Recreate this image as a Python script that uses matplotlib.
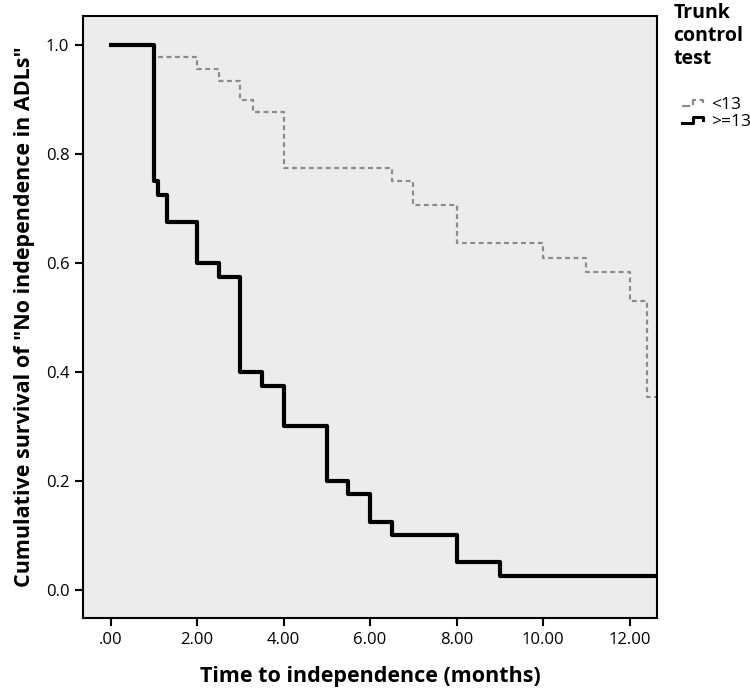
import matplotlib
matplotlib.use("Agg")
import matplotlib.pyplot as plt
from matplotlib.legend_handler import HandlerBase
from matplotlib.lines import Line2D
from matplotlib.ticker import FuncFormatter

# Kaplan-Meier steps
time_low = [0.0, 1.0, 2.0, 2.5, 3.0, 3.3, 4.0, 6.5, 7.0, 8.0, 10.0, 11.0, 12.0, 12.4, 12.62]
surv_low = [1.0, 0.978, 0.956, 0.934, 0.90, 0.878, 0.775, 0.75, 0.706, 0.636, 0.61, 0.583, 0.53, 0.354, 0.354]

time_high = [0.0, 1.0, 1.1, 1.3, 2.0, 2.5, 3.0, 3.5, 4.0, 5.0, 5.5, 6.0, 6.5, 8.0, 9.0, 12.62]
surv_high = [1.0, 0.75, 0.725, 0.675, 0.6, 0.575, 0.4, 0.375, 0.3, 0.2, 0.175, 0.125, 0.1, 0.05, 0.025, 0.025]

group_labels = ["<13", ">=13"]
x_ticks = [0, 2, 4, 6, 8, 10, 12]
y_ticks = [0.0, 0.2, 0.4, 0.6, 0.8, 1.0]


# legend glyph drawn as a little step, like SPSS does
class StepHandler(HandlerBase):
    def create_artists(self, legend, orig_handle, xdescent, ydescent,
                       width, height, fontsize, trans):
        xs = [0, 0.45 * width, 0.45 * width, 0.85 * width, 0.85 * width]
        ys = [0.2 * height, 0.2 * height, 0.75 * height, 0.75 * height, 0.45 * height]
        ln = Line2D([x - xdescent for x in xs], [y - ydescent for y in ys],
                    color=orig_handle.get_color(), linestyle=orig_handle.get_linestyle(),
                    linewidth=min(orig_handle.get_linewidth(), 2.2), transform=trans)
        return [ln]


fig = plt.figure(figsize=(7.5, 6.92), dpi=100)
ax = fig.add_axes([0.111, 0.107, 0.765, 0.870])
ax.set_facecolor("#ececec")

l1, = ax.step(time_low, surv_low, where="post", color="#8c8c8c",
              linestyle=(0, (2.2, 1.6)), linewidth=1.6, label=group_labels[0])
l2, = ax.step(time_high, surv_high, where="post", color="black",
              linewidth=3, label=group_labels[1])

ax.set_xlim(-0.63, 12.63)
ax.set_ylim(-0.052, 1.054)
ax.set_xticks(x_ticks)
ax.set_yticks(y_ticks)
ax.xaxis.set_major_formatter(FuncFormatter(lambda v, p: ".00" if v == 0 else f"{v:.2f}"))
ax.yaxis.set_major_formatter(FuncFormatter(lambda v, p: f"{v:.1f}"))
ax.tick_params(direction="out", length=6, width=1.5, labelsize=12, pad=4)
for lab in ax.get_xticklabels() + ax.get_yticklabels():
    lab.set_family("Open Sans")
for sp in ax.spines.values():
    sp.set_linewidth(1.5)

ax.set_xlabel("Time to independence (months)", fontsize=15.5, fontweight="bold",
              family="Open Sans", labelpad=13)
ax.set_ylabel('Cumulative survival of "No independence in ADLs"', fontsize=15.5,
              fontweight="bold", family="Open Sans", labelpad=8)

fig.text(0.898, 0.995, "Trunk\ncontrol\ntest", ha="left", va="top", fontsize=14,
         fontweight="bold", family="Open Sans", linespacing=1.2)
fig.legend(handles=[l1, l2], labels=group_labels, loc="upper left",
           bbox_to_anchor=(0.889, 0.883), frameon=False,
           handlelength=1.4, handletextpad=0.25, labelspacing=0.05,
           handler_map={Line2D: StepHandler()}, prop={"family": "Open Sans", "size": 12.5})

fig.savefig("out.png", dpi=100)
